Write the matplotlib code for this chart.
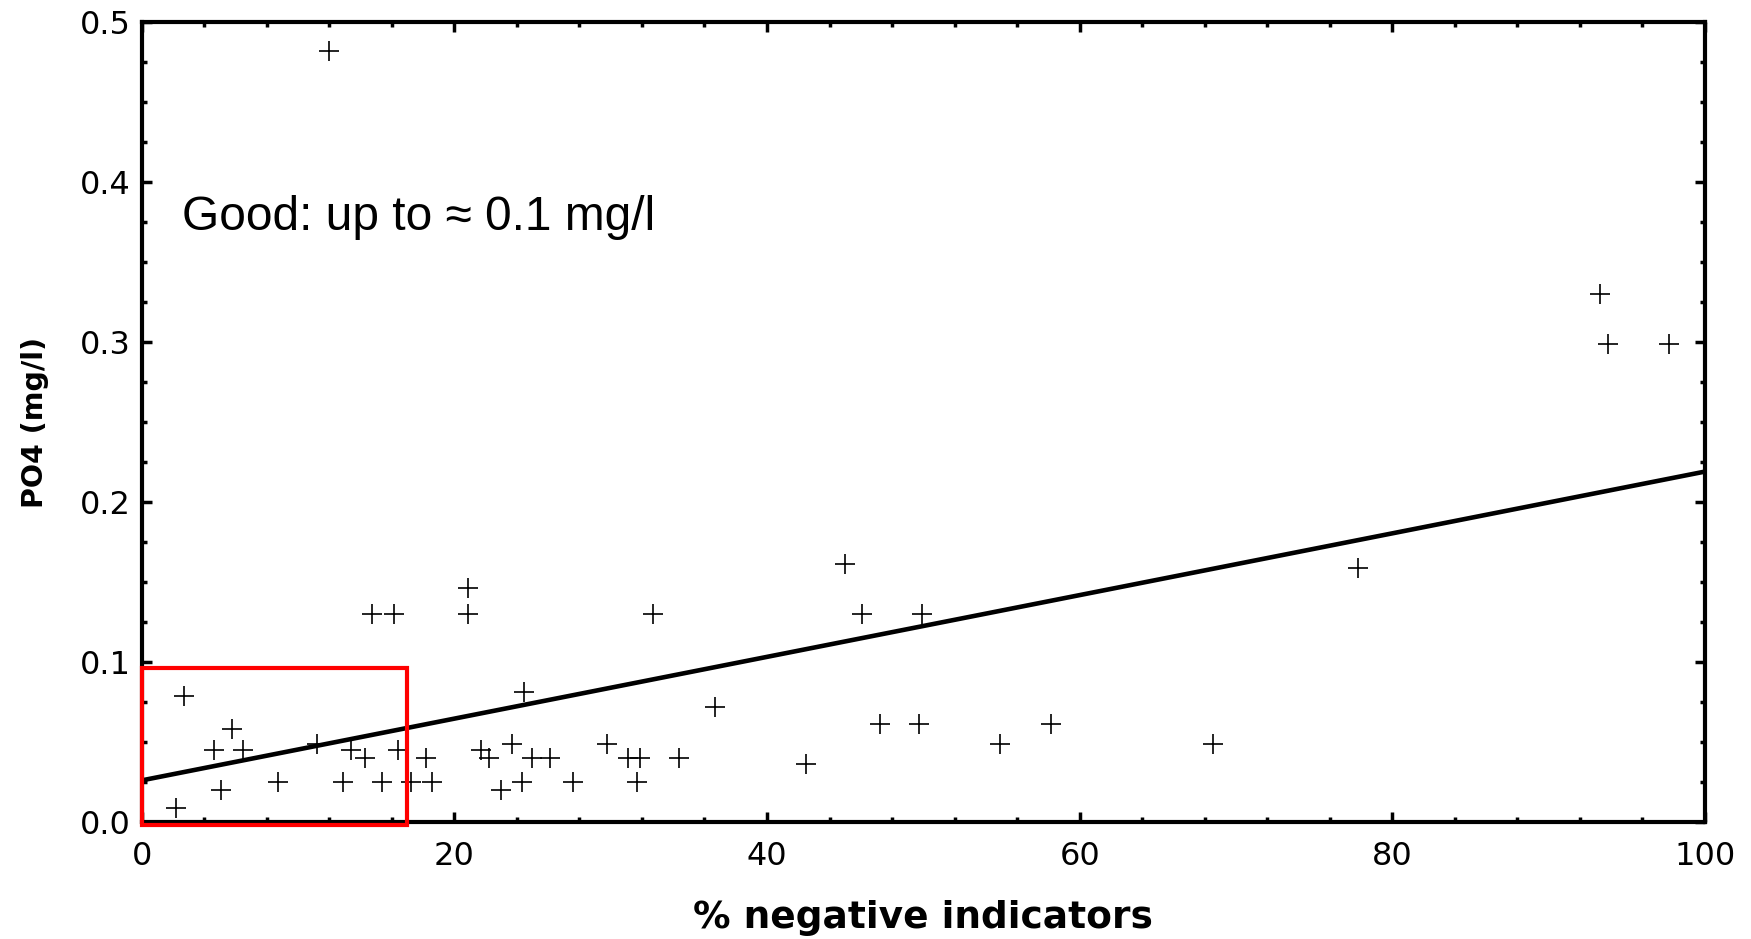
import matplotlib
matplotlib.use("Agg")
import matplotlib.pyplot as plt
from matplotlib.patches import Rectangle
from matplotlib.ticker import MultipleLocator, FormatStrFormatter

# Share of negative indicator species (%) at each site
neg_indicators = [
    2.2, 2.7, 4.65, 5.1, 5.75, 6.5, 8.75, 11.2, 12.0, 12.9,
    13.4, 14.3, 14.75, 15.4, 16.15, 16.4, 17.2, 18.2, 18.6, 20.9,
    20.9, 21.7, 22.2, 23.0, 23.7, 24.3, 24.45, 25.0, 26.1, 27.6,
    29.75, 31.1, 31.7, 31.9, 32.7, 34.4, 36.7, 42.5, 45.0, 46.1,
    47.2, 49.7, 49.9, 54.9, 58.2, 68.5, 77.8, 93.3, 93.8, 97.7,
]
# Phosphate concentration (mg/l) at the same sites
po4 = [
    0.009, 0.079, 0.045, 0.020, 0.058, 0.045, 0.025, 0.049, 0.482, 0.025,
    0.045, 0.040, 0.130, 0.025, 0.130, 0.045, 0.025, 0.040, 0.025, 0.146,
    0.130, 0.045, 0.040, 0.020, 0.049, 0.025, 0.081, 0.040, 0.040, 0.025,
    0.049, 0.040, 0.025, 0.040, 0.130, 0.040, 0.072, 0.036, 0.161, 0.130,
    0.061, 0.061, 0.130, 0.049, 0.061, 0.049, 0.159, 0.330, 0.299, 0.299,
]

# Linear trend: PO4 = intercept + slope * %negative
trend_intercept = 0.026
trend_slope = 0.00193
trend_x = [0, 100]

# "Good" reference zone: 0-17 % negative indicators, PO4 up to about 0.1 mg/l
good_x = (0.0, 17.0)
good_y = (-0.002, 0.0965)

x_ticks = [0, 20, 40, 60, 80, 100]
y_ticks = [0.0, 0.1, 0.2, 0.3, 0.4, 0.5]

fig = plt.figure(figsize=(17.51, 9.39), dpi=100)
ax = fig.add_axes([0.0809, 0.1246, 0.9737 - 0.0809, 0.9766 - 0.1246])

ax.plot(neg_indicators, po4, linestyle="none", marker="+", color="black",
        markersize=15, markeredgewidth=1.2, zorder=3)

trend_y = [trend_intercept + trend_slope * v for v in trend_x]
ax.plot(trend_x, trend_y, color="black", linewidth=3.3, zorder=4,
        solid_capstyle="butt")

ax.add_patch(Rectangle((good_x[0], good_y[0]), good_x[1] - good_x[0],
                       good_y[1] - good_y[0], fill=False, edgecolor="#ff0000",
                       linewidth=3.0, clip_on=False, zorder=5))

ax.text(2.6, 0.378, "Good: up to \u2248 0.1 mg/l", fontsize=34.5,
        family="Liberation Sans", va="center", ha="left")

ax.set_xlim(0, 100)
ax.set_ylim(0, 0.5)
ax.set_xticks(x_ticks)
ax.set_yticks(y_ticks)
ax.xaxis.set_minor_locator(MultipleLocator(4))
ax.yaxis.set_minor_locator(MultipleLocator(0.025))
ax.yaxis.set_major_formatter(FormatStrFormatter("%.1f"))

for side in ax.spines.values():
    side.set_linewidth(3.0)

ax.tick_params(which="both", direction="in", top=True, right=True,
               width=2.5, color="black")
ax.tick_params(which="major", length=7)
ax.tick_params(which="minor", length=3.5)
ax.tick_params(axis="x", which="major", pad=14, labelsize=23)
ax.tick_params(axis="y", which="major", pad=8, labelsize=23)
for lab in ax.get_xticklabels() + ax.get_yticklabels():
    lab.set_family("DejaVu Sans")

ax.set_xlabel("% negative indicators", fontsize=27, fontweight="bold",
              family="DejaVu Sans", labelpad=20)
ax.set_ylabel("PO4 (mg/l)", fontsize=20.5, fontweight="bold",
              family="DejaVu Sans", labelpad=22)

fig.savefig("out.png", dpi=100, facecolor="white")
